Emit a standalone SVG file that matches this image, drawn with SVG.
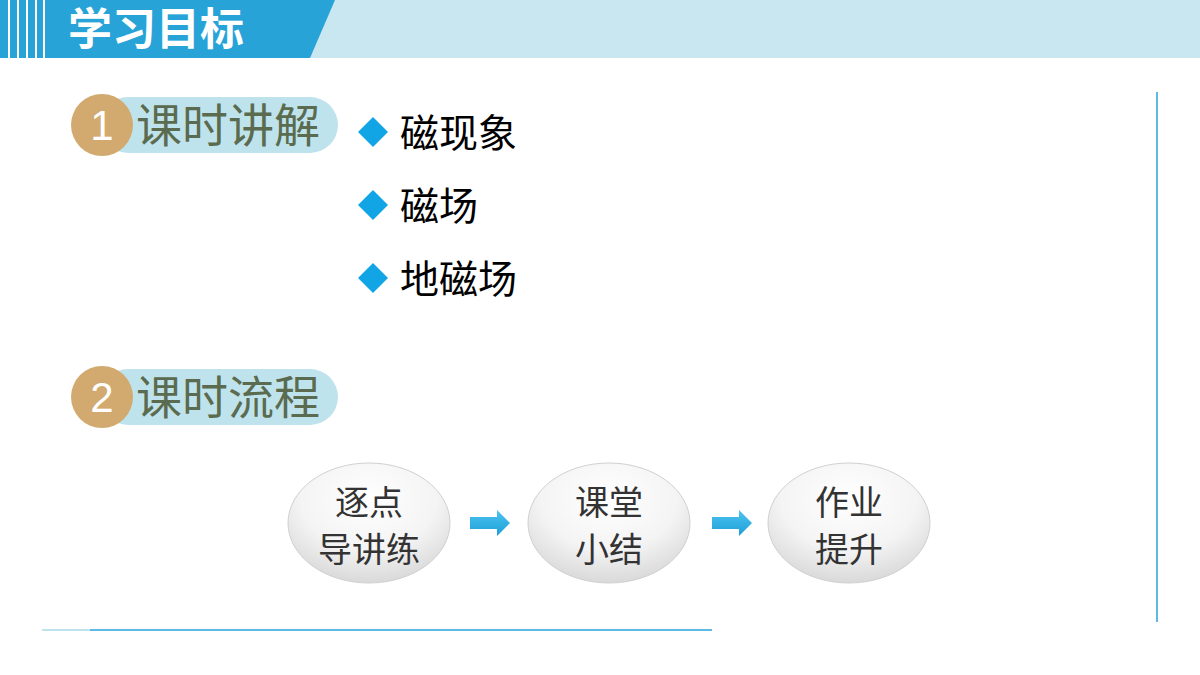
<svg xmlns="http://www.w3.org/2000/svg" width="1200" height="675" viewBox="0 0 1200 675">
<defs>
<radialGradient id="eg" cx="0.5" cy="0.3" r="0.7"><stop offset="0" stop-color="#ffffff"/><stop offset="0.6" stop-color="#f4f4f4"/><stop offset="1" stop-color="#d9d9d9"/></radialGradient>
<linearGradient id="ag" x1="0" y1="0" x2="0" y2="1"><stop offset="0" stop-color="#4cc3f0"/><stop offset="1" stop-color="#1e9fd8"/></linearGradient>
</defs>
<style>
.cj{font-family:"Noto Sans CJK SC","Liberation Sans",sans-serif}
.bt{font-size:39px;fill:#000}
.bd{font-size:46px;fill:#5b6b4f}
.nt{font-size:34px;fill:#333;text-anchor:middle}
.pill{fill:#bfe3ec}
.num{fill:#d2a96f}
.nn{font-family:"Liberation Sans",sans-serif;font-size:42px;fill:#fff;text-anchor:middle}
.dia{fill:#12a5e6}
.el{fill:url(#eg);stroke:#d0d0d0;stroke-width:1}
</style>
<g id="header">
<rect x="0" y="0" width="1200" height="58" fill="#c9e7f1"/>
<polygon points="0,0 335,0 310,58 0,58" fill="#27a3d8"/>
<g fill="#fff"><rect x="8" y="0" width="2" height="58"/><rect x="17" y="0" width="2" height="58"/><rect x="26" y="0" width="2" height="58"/><rect x="35" y="0" width="2" height="58"/><rect x="43" y="0" width="2" height="58"/></g>
<text x="68" y="45" class="cj" font-size="44" fill="#fff" font-weight="bold">学习目标</text>
</g>
<g id="badge1">
<rect x="100" y="97" width="238" height="56" rx="28" class="pill"/>
<circle cx="102" cy="125" r="31" class="num"/>
<text x="102" y="140" class="nn">1</text>
<text x="136" y="142" class="cj bd">课时讲解</text>
</g>
<g id="badge2">
<rect x="100" y="369" width="238" height="56" rx="28" class="pill"/>
<circle cx="102" cy="397" r="31" class="num"/>
<text x="102" y="412" class="nn">2</text>
<text x="136" y="414" class="cj bd">课时流程</text>
</g>
<g id="bullets">
<polygon points="373,117 388,132 373,147 358,132" class="dia"/>
<text x="400" y="147" class="cj bt">磁现象</text>
<polygon points="373,190 388,205 373,220 358,205" class="dia"/>
<text x="400" y="220" class="cj bt">磁场</text>
<polygon points="373,263 388,278 373,293 358,278" class="dia"/>
<text x="400" y="293" class="cj bt">地磁场</text>
</g>
<g id="n1"><ellipse cx="369" cy="523" rx="81" ry="60" class="el"/><text x="369" y="515" class="cj nt">逐点</text><text x="369" y="562" class="cj nt">导讲练</text></g>
<g id="n2"><ellipse cx="609" cy="523" rx="81" ry="60" class="el"/><text x="609" y="515" class="cj nt">课堂</text><text x="609" y="562" class="cj nt">小结</text></g>
<g id="n3"><ellipse cx="849" cy="523" rx="81" ry="60" class="el"/><text x="849" y="515" class="cj nt">作业</text><text x="849" y="562" class="cj nt">提升</text></g>
<g id="connectors">
<polygon points="470,517 497,517 497,510 510,523 497,536 497,529 470,529" fill="url(#ag)"/>
<polygon points="712,517 739,517 739,510 752,523 739,536 739,529 712,529" fill="url(#ag)"/>
</g>
<g id="lines">
<line x1="1157" y1="92" x2="1157" y2="622" stroke="#27a3d8" stroke-width="1.5"/>
<line x1="42" y1="630" x2="712" y2="630" stroke="#27a3d8" stroke-width="1.5"/>
<line x1="42" y1="630" x2="90" y2="630" stroke="#bfe3ec" stroke-width="2"/>
</g>
</svg>
